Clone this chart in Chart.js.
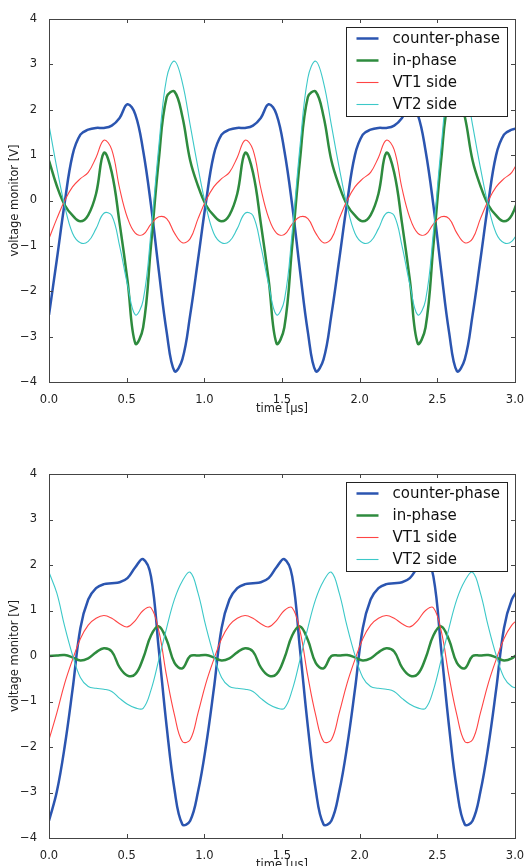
<!DOCTYPE html>
<html>
<head>
<meta charset="utf-8">
<script src="https://cdn.jsdelivr.net/npm/chart.js@4.4.1/dist/chart.umd.min.js"></script>
<style>
  html, body { margin: 0; padding: 0; background: #fff; overflow: hidden; width: 528px; height: 866px; }
  #top { position: absolute; left: 0; top: 0; }
  #bottom { position: absolute; left: 0; top: 433px; }
</style>
</head>
<body>
<canvas id="top" width="528" height="433"></canvas>
<canvas id="bottom" width="528" height="456"></canvas>
<script>
// sample times in microseconds
var times = [0, 0.0505, 0.101, 0.1515, 0.202, 0.2525, 0.303, 0.3535, 0.404, 0.4545,
  0.505, 0.5555, 0.606, 0.6565, 0.707, 0.7575, 0.808, 0.8585, 0.909, 0.9595,
  1.01, 1.0605, 1.111, 1.1615, 1.212, 1.2625, 1.313, 1.3635, 1.414, 1.4645,
  1.515, 1.5655, 1.616, 1.6665, 1.717, 1.7675, 1.818, 1.8685, 1.919, 1.9695,
  2.02, 2.0705, 2.121, 2.1715, 2.222, 2.2725, 2.323, 2.3735, 2.424, 2.4745,
  2.525, 2.5755, 2.626, 2.6765, 2.727, 2.7775, 2.828, 2.8785, 2.929, 2.9795, 3.03];

var xTicks = [0, 0.5, 1.0, 1.5, 2.0, 2.5, 3.0];
var yTicks = [-4, -3, -2, -1, 0, 1, 2, 3, 4];
var seriesNames = ['counter-phase', 'in-phase', 'VT1 side', 'VT2 side'];

// upper panel
var topCounter = [-2.52, -1.3, -0.05, 1.0, 1.45, 1.56, 1.6, 1.6, 1.65, 1.82, 2.12, 1.9, 1.1, -0.1, -1.55, -2.9, -3.76, -3.5,
  -2.52, -1.3, -0.05, 1.0, 1.45, 1.56, 1.6, 1.6, 1.65, 1.82, 2.12, 1.9, 1.1, -0.1, -1.55, -2.9, -3.76, -3.5,
  -2.52, -1.3, -0.05, 1.0, 1.45, 1.56, 1.6, 1.6, 1.65, 1.82, 2.12, 1.9, 1.1, -0.1, -1.55, -2.9, -3.76, -3.5,
  -2.52, -1.3, -0.05, 1.0, 1.45, 1.56, 1.6];
var topInPhase = [0.88, 0.32, -0.1, -0.33, -0.46, -0.32, 0.15, 1.05, 0.62, -0.5, -1.75, -3.15, -2.8, -1.0, 0.9, 2.28, 2.4, 1.85,
  0.88, 0.32, -0.1, -0.33, -0.46, -0.32, 0.15, 1.05, 0.62, -0.5, -1.75, -3.15, -2.8, -1.0, 0.9, 2.28, 2.4, 1.85,
  0.88, 0.32, -0.1, -0.33, -0.46, -0.32, 0.15, 1.05, 0.62, -0.5, -1.75, -3.15, -2.8, -1.0, 0.9, 2.28, 2.4, 1.85,
  0.88, 0.32, -0.1, -0.33, -0.46, -0.32, 0.15];
var topVT1 = [-0.84, -0.4, 0.0, 0.3, 0.48, 0.62, 0.95, 1.33, 1.12, 0.27, -0.38, -0.72, -0.75, -0.52, -0.36, -0.4, -0.72, -0.93,
  -0.84, -0.4, 0.0, 0.3, 0.48, 0.62, 0.95, 1.33, 1.12, 0.27, -0.38, -0.72, -0.75, -0.52, -0.36, -0.4, -0.72, -0.93,
  -0.84, -0.4, 0.0, 0.3, 0.48, 0.62, 0.95, 1.33, 1.12, 0.27, -0.38, -0.72, -0.75, -0.52, -0.36, -0.4, -0.72, -0.93,
  -0.84, -0.4, 0.0, 0.3, 0.48, 0.62, 0.95];
var topVT2 = [1.66, 0.72, -0.12, -0.72, -0.93, -0.9, -0.62, -0.28, -0.33, -1.0, -1.85, -2.52, -2.2, -0.7, 1.2, 2.7, 3.07, 2.6,
  1.66, 0.72, -0.12, -0.72, -0.93, -0.9, -0.62, -0.28, -0.33, -1.0, -1.85, -2.52, -2.2, -0.7, 1.2, 2.7, 3.07, 2.6,
  1.66, 0.72, -0.12, -0.72, -0.93, -0.9, -0.62, -0.28, -0.33, -1.0, -1.85, -2.52, -2.2, -0.7, 1.2, 2.7, 3.07, 2.6,
  1.66, 0.72, -0.12, -0.72, -0.93, -0.9, -0.62];

// lower panel
var botCounter = [-3.62, -2.98, -1.99, -0.74, 0.61, 1.24, 1.49, 1.58, 1.6, 1.62, 1.71, 1.95, 2.13, 1.75, 0.14, -1.55, -2.94, -3.7,
  -3.62, -2.98, -1.99, -0.74, 0.61, 1.24, 1.49, 1.58, 1.6, 1.62, 1.71, 1.95, 2.13, 1.75, 0.14, -1.55, -2.94, -3.7,
  -3.62, -2.98, -1.99, -0.74, 0.61, 1.24, 1.49, 1.58, 1.6, 1.62, 1.71, 1.95, 2.13, 1.75, 0.14, -1.55, -2.94, -3.7,
  -3.62, -2.98, -1.99, -0.74, 0.61, 1.24, 1.49];
var botInPhase = [0.0, 0.01, 0.02, -0.03, -0.1, -0.05, 0.08, 0.17, 0.1, -0.25, -0.43, -0.4, -0.05, 0.45, 0.65, 0.35, -0.15, -0.27,
  0.0, 0.01, 0.02, -0.03, -0.1, -0.05, 0.08, 0.17, 0.1, -0.25, -0.43, -0.4, -0.05, 0.45, 0.65, 0.35, -0.15, -0.27,
  0.0, 0.01, 0.02, -0.03, -0.1, -0.05, 0.08, 0.17, 0.1, -0.25, -0.43, -0.4, -0.05, 0.45, 0.65, 0.35, -0.15, -0.27,
  0.0, 0.01, 0.02, -0.03, -0.1, -0.05, 0.08];
var botVT1 = [-1.84, -1.25, -0.6, -0.08, 0.38, 0.68, 0.83, 0.89, 0.83, 0.71, 0.64, 0.78, 1.0, 1.06, 0.55, -0.45, -1.3, -1.88,
  -1.84, -1.25, -0.6, -0.08, 0.38, 0.68, 0.83, 0.89, 0.83, 0.71, 0.64, 0.78, 1.0, 1.06, 0.55, -0.45, -1.3, -1.88,
  -1.84, -1.25, -0.6, -0.08, 0.38, 0.68, 0.83, 0.89, 0.83, 0.71, 0.64, 0.78, 1.0, 1.06, 0.55, -0.45, -1.3, -1.88,
  -1.84, -1.25, -0.6, -0.08, 0.38, 0.68, 0.83];
var botVT2 = [1.84, 1.38, 0.65, 0.02, -0.47, -0.67, -0.71, -0.73, -0.78, -0.93, -1.06, -1.14, -1.15, -0.75, -0.08, 0.62, 1.25, 1.65,
  1.84, 1.38, 0.65, 0.02, -0.47, -0.67, -0.71, -0.73, -0.78, -0.93, -1.06, -1.14, -1.15, -0.75, -0.08, 0.62, 1.25, 1.65,
  1.84, 1.38, 0.65, 0.02, -0.47, -0.67, -0.71, -0.73, -0.78, -0.93, -1.06, -1.14, -1.15, -0.75, -0.08, 0.62, 1.25, 1.65,
  1.84, 1.38, 0.65, 0.02, -0.47, -0.67, -0.71];

var colors = ['#2b55b0', '#2e8b3e', '#ff4444', '#3cc8c8'];
var widths = [2.5, 2.5, 1.1, 1.1];
var FONT = 'DejaVu Sans';
var INK = '#444';

function pts(vals) {
    return times.map(function (t, i) { return { x: t, y: vals[i] }; });
}

function makeDatasets(list) {
    return list.map(function (vals, i) {
        return {
            label: seriesNames[i],
            data: pts(vals),
            borderColor: colors[i],
            borderWidth: widths[i],
            pointRadius: 0,
            tension: 0.4,
            fill: false,
            order: 4 - i
        };
    });
}

// frame, inward ticks and the boxed legend
var framePlugin = {
    id: 'frame',
    afterDraw: function (chart) {
        var c = chart.ctx, a = chart.chartArea;
        var xs = chart.scales.x, ys = chart.scales.y;
        c.save();
        c.strokeStyle = INK;
        c.lineWidth = 1;
        c.beginPath();
        xTicks.forEach(function (v) {
            var px = Math.round(xs.getPixelForValue(v)) + 0.5;
            c.moveTo(px, a.bottom); c.lineTo(px, a.bottom - 4);
            c.moveTo(px, a.top); c.lineTo(px, a.top + 4);
        });
        yTicks.forEach(function (v) {
            var py = Math.round(ys.getPixelForValue(v)) + 0.5;
            c.moveTo(a.left, py); c.lineTo(a.left + 4, py);
            c.moveTo(a.right, py); c.lineTo(a.right - 4, py);
        });
        c.stroke();
        c.strokeRect(Math.round(a.left) + 0.5, Math.round(a.top) + 0.5,
            Math.round(a.right - a.left), Math.round(a.bottom - a.top));

        // legend
        var bx = Math.round(a.right) - 169 + 0.5, by = Math.round(a.top) + 8 + 0.5;
        c.fillStyle = '#fff';
        c.fillRect(bx, by, 161, 89);
        c.strokeStyle = '#222';
        c.strokeRect(bx, by, 161, 89);
        c.font = '15px "' + FONT + '"';
        c.textBaseline = 'middle';
        chart.data.datasets.forEach(function (ds, i) {
            var ry = by + 11 + i * 22;
            c.strokeStyle = ds.borderColor;
            c.lineWidth = ds.borderWidth;
            c.beginPath();
            c.moveTo(bx + 10, ry); c.lineTo(bx + 32, ry);
            c.stroke();
            c.fillStyle = '#111';
            c.fillText(ds.label, bx + 46, ry + 1);
        });
        c.restore();
    }
};

function makeChart(id, list, padTop) {
    var ctx = document.getElementById(id).getContext('2d');
    return new Chart(ctx, {
        type: 'line',
        data: { datasets: makeDatasets(list) },
        options: {
            responsive: false,
            animation: false,
            events: [],
            layout: { padding: { top: padTop, right: 13, left: 0, bottom: 0 } },
            plugins: { legend: { display: false }, tooltip: { enabled: false } },
            scales: {
                x: {
                    type: 'linear',
                    min: 0, max: 3,
                    afterBuildTicks: function (s) { s.ticks = xTicks.map(function (v) { return { value: v }; }); },
                    afterFit: function (s) { s.height = 51; },
                    grid: { display: false },
                    border: { display: false },
                    ticks: {
                        padding: 3,
                        color: '#222',
                        font: { family: FONT, size: 11.5 },
                        maxRotation: 0,
                        callback: function (v) { return Number(v).toFixed(1); }
                    },
                    title: {
                        display: true,
                        text: 'time [\u03bcs]',
                        color: '#222',
                        font: { family: FONT, size: 11.5 },
                        padding: { top: 0, bottom: 17 }
                    }
                },
                y: {
                    min: -4, max: 4,
                    afterBuildTicks: function (s) { s.ticks = yTicks.map(function (v) { return { value: v }; }); },
                    afterFit: function (s) { s.width = 49; },
                    grid: { display: false },
                    border: { display: false },
                    ticks: {
                        padding: 4,
                        color: '#222',
                        font: { family: FONT, size: 11.5 },
                        callback: function (v) { return v < 0 ? '\u2212' + Math.abs(v) : String(v); }
                    },
                    title: {
                        display: true,
                        text: 'voltage monitor [V]',
                        color: '#222',
                        font: { family: FONT, size: 11.5 },
                        padding: { top: 8, bottom: 0 }
                    }
                }
            }
        },
        plugins: [framePlugin]
    });
}

makeChart('top', [topCounter, topInPhase, topVT1, topVT2], 19);
makeChart('bottom', [botCounter, botInPhase, botVT1, botVT2], 41);
</script>
</body>
</html>
